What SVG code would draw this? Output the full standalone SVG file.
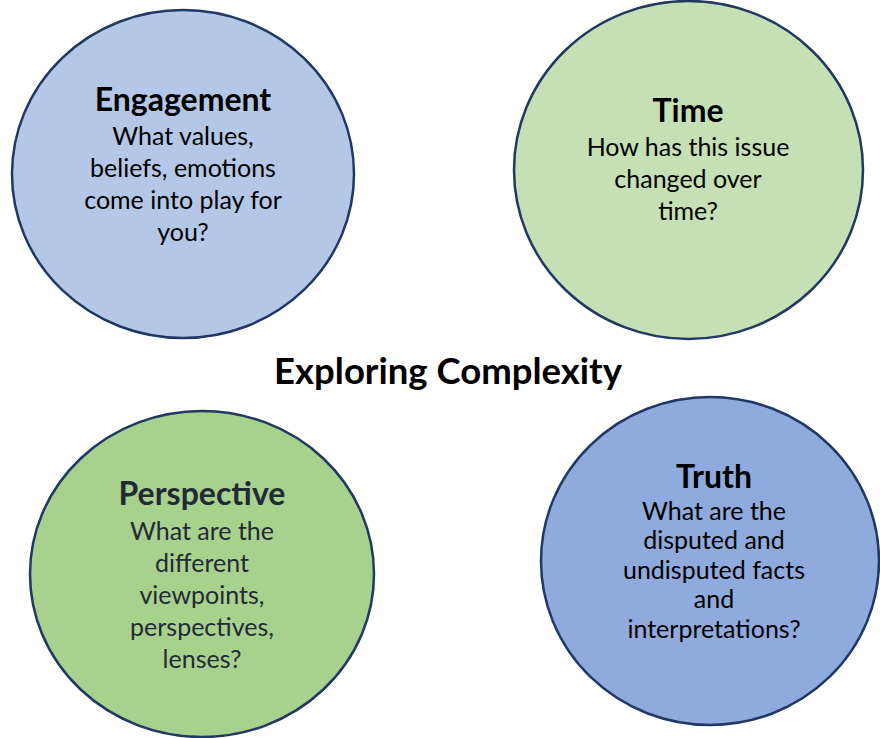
<svg xmlns="http://www.w3.org/2000/svg" width="880" height="738" viewBox="0 0 880 738">
  <style>
    .ring { stroke: #203864; stroke-width: 2.5; }
    .head { font-family: Lato, "Liberation Sans", sans-serif; font-weight: bold; font-size: 32px; text-anchor: middle; fill: #000; }
    .body { font-family: Lato, "Liberation Sans", sans-serif; font-size: 25px; text-anchor: middle; fill: #000; }
    .slate { fill: #222a35; }
    .title { font-family: Lato, "Liberation Sans", sans-serif; font-weight: bold; font-size: 36.5px; text-anchor: middle; fill: #000; }
  </style>
  <rect width="880" height="738" fill="#ffffff"/>

  <g id="engagement">
    <ellipse class="ring" cx="183" cy="174" rx="171" ry="164" fill="#b4c7e7"/>
    <text class="head" x="183" y="111">Engagement</text>
    <text class="body" x="183" y="145">What values,</text>
    <text class="body" x="183" y="177">beliefs, emotions</text>
    <text class="body" x="183" y="209">come into play for</text>
    <text class="body" x="183" y="241">you?</text>
  </g>

  <g id="time">
    <ellipse class="ring" cx="688.5" cy="170" rx="174.5" ry="169" fill="#c5e0b4"/>
    <text class="head" x="688" y="122">Time</text>
    <text class="body" x="688" y="156">How has this issue</text>
    <text class="body" x="688" y="188">changed over</text>
    <text class="body" x="688" y="220">time?</text>
  </g>

  <g id="perspective">
    <ellipse class="ring" cx="202" cy="574" rx="172" ry="163" fill="#a9d18e"/>
    <text class="head slate" x="202" y="505">Perspective</text>
    <text class="body slate" x="202" y="540">What are the</text>
    <text class="body slate" x="202" y="572">different</text>
    <text class="body slate" x="202" y="604">viewpoints,</text>
    <text class="body slate" x="202" y="636">perspectives,</text>
    <text class="body slate" x="202" y="668">lenses?</text>
  </g>

  <g id="truth">
    <ellipse class="ring" cx="710" cy="561" rx="169" ry="164" fill="#8faadc"/>
    <text class="head" x="714" y="488">Truth</text>
    <text class="body" x="714" y="520">What are the</text>
    <text class="body" x="714" y="549">disputed and</text>
    <text class="body" x="714" y="579">undisputed facts</text>
    <text class="body" x="714" y="608">and</text>
    <text class="body" x="714" y="638">interpretations?</text>
  </g>

  <g id="connectors"></g>

  <text class="title" x="448" y="384">Exploring Complexity</text>
</svg>
